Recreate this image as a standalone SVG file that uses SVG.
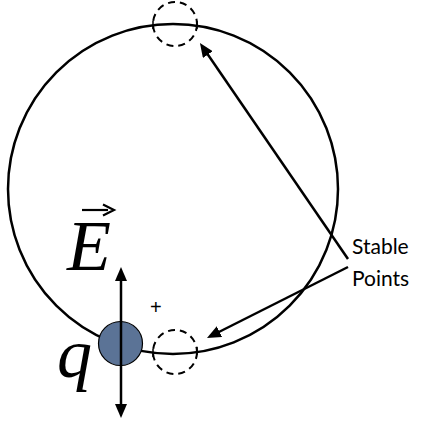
<svg xmlns="http://www.w3.org/2000/svg" width="431" height="425" viewBox="0 0 431 425">
<style>
.loop{fill:none;stroke:#000;stroke-width:2.5}
.dash{fill:none;stroke:#000;stroke-width:2;stroke-dasharray:7 5}
.tick{stroke:#000;stroke-width:1.5}
.arr{stroke:#000;stroke-width:2.5;fill:none}
.math{font-family:"Liberation Serif",serif;font-style:italic;fill:#000}
.lbl{font-family:Lato,"Liberation Sans",sans-serif;font-size:21px;fill:#000}
</style>
<defs>
<marker id="ah" viewBox="0 0 14 12" refX="4" refY="6" markerWidth="14" markerHeight="12" markerUnits="userSpaceOnUse" orient="auto-start-reverse">
<path d="M0,0 L14,6 L0,12 z" fill="#000"/>
</marker>
</defs>
<g id="loop">
<circle class="loop" cx="173" cy="189" r="165"/>
</g>
<g id="stable-top">
<circle class="dash" cx="175" cy="24" r="22"/>
<line class="tick" x1="153" y1="21" x2="153" y2="29"/>
<line class="tick" x1="197" y1="21" x2="197" y2="29"/>
</g>
<g id="stable-bottom">
<circle class="dash" cx="175" cy="352" r="22"/>
<line class="tick" x1="153" y1="349" x2="153" y2="357"/>
<line class="tick" x1="197" y1="347" x2="197" y2="355"/>
</g>
<g id="charge">
<circle cx="120.5" cy="343.5" r="22" fill="#5b7396" stroke="#000" stroke-width="1.2"/>
<text class="math" x="57" y="377" font-size="70">q</text>
<text x="150" y="314" font-family="Liberation Sans,sans-serif" font-size="20" fill="#000">+</text>
</g>
<g id="field">
<text class="math" x="67" y="270" font-size="72">E</text>
<line x1="82" y1="210" x2="108" y2="210" stroke="#000" stroke-width="2.2"/>
<path d="M103,204.5 L114,210 L103,215.5" fill="none" stroke="#000" stroke-width="2.2"/>
</g>
<g id="label">
<text class="lbl" x="352" y="254">Stable</text>
<text class="lbl" x="352" y="286">Points</text>
</g>
<g id="connectors">
<line class="arr" x1="121" y1="277" x2="121" y2="408" marker-start="url(#ah)" marker-end="url(#ah)"/>
<line class="arr" x1="348" y1="259" x2="205.6" y2="51.3" marker-end="url(#ah)"/>
<line class="arr" x1="348" y1="267" x2="215.9" y2="333.5" marker-end="url(#ah)"/>
</g>
</svg>
